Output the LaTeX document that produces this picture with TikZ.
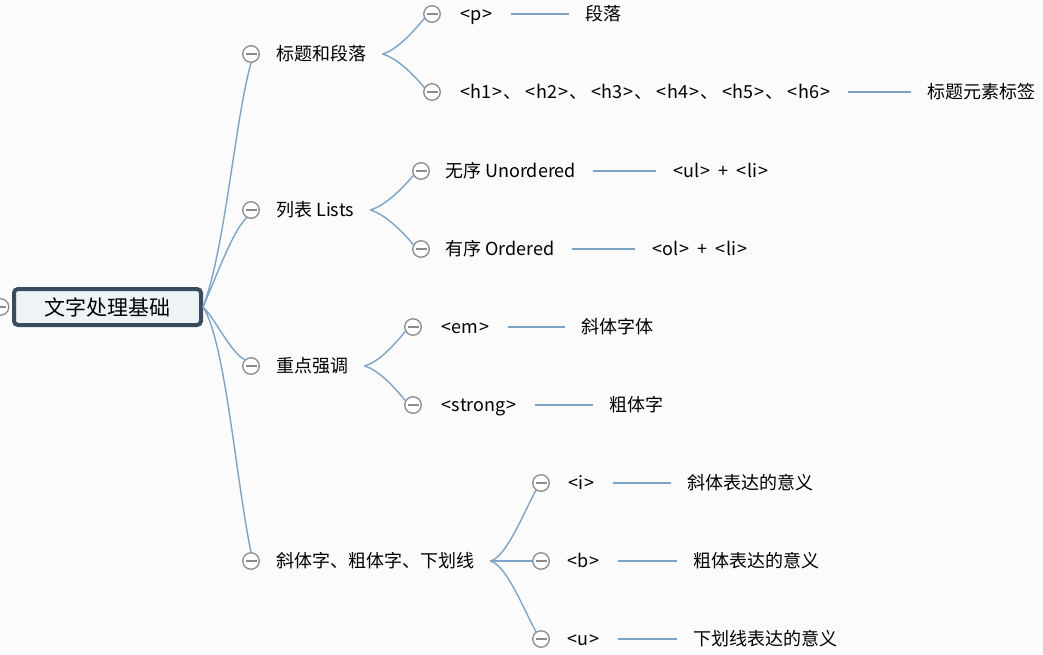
\documentclass[tikz,border=0pt]{standalone}
\usepackage{fontspec}
\setmainfont{Noto Sans CJK SC}
\usetikzlibrary{calc}
\definecolor{bgc}{RGB}{251,251,251}
\definecolor{linkc}{RGB}{125,164,198}
\definecolor{circc}{RGB}{140,140,140}
\definecolor{rootc}{RGB}{58,77,94}
\definecolor{rootfill}{RGB}{238,243,247}
\newcommand\tagtxt[1]{\kern1pt<\kern0.8pt#1\kern0.8pt>\kern1pt}
\newcommand\dunhao{、\kern3pt}
\tikzset{
  link/.style={draw=linkc, line width=1.4pt},
  collapse/.style={circle, draw=circc, fill=white, line width=1.3pt, minimum size=16.5pt, inner sep=0pt,
    path picture={\draw[circc, line width=1.3pt] ([xshift=-5.5pt]path picture bounding box.center) -- ([xshift=5.5pt]path picture bounding box.center);}},
  txt/.style={font=\fontsize{18}{21}\selectfont, inner sep=0pt, anchor=west, text=black, text height=14.5pt, text depth=1.5pt},
  rootbox/.style={rectangle, rounded corners=4pt, draw=rootc, fill=rootfill, line width=4pt,
    minimum width=187pt, minimum height=36pt, inner sep=0pt, font=\fontsize{21}{24}\selectfont}
}
\begin{document}
\begin{tikzpicture}[x=1pt,y=-1pt]
\fill[bgc] (0,0) rectangle (1043,654);
\useasboundingbox (0,0) rectangle (1043,654);

% root
\node[collapse] (c0) at (0.5,307) {};
\node[rootbox] (root) at (107.5,307) {文字处理基础};

% level-1 collapse circles and texts
\node[collapse] (c1) at (251,54) {};
\node[collapse] (c2) at (251,210) {};
\node[collapse] (c3) at (251,366) {};
\node[collapse] (c4) at (251,561) {};
\node[txt] (t1) at (276,54) {标题和段落};
\node[txt] (t2) at (276,210) {列表 Lists};
\node[txt] (t3) at (276,366) {重点强调};
\node[txt] (t4) at (276,561) {斜体字、粗体字、下划线};

% root -> level 1
\draw[link] (root.east) .. controls (225,250) and (235,120) .. (c1.south);
\draw[link] (root.east) .. controls (215,280) and (232,232) .. (c2.240);
\draw[link] (root.east) .. controls (215,318) and (230,352) .. (c3.135);
\draw[link] (root.east) .. controls (225,340) and (236,480) .. (c4.north);

% level-2 circles
\node[collapse] (c11) at (432,14) {};
\node[collapse] (c12) at (432,92) {};
\node[collapse] (c21) at (421,171) {};
\node[collapse] (c22) at (421,249) {};
\node[collapse] (c31) at (413,327) {};
\node[collapse] (c32) at (413,405) {};
\node[collapse] (c41) at (541,483) {};
\node[collapse] (c42) at (541,561) {};
\node[collapse] (c43) at (541,639) {};

% level-2 texts
\node[txt] (t11) at (459,14) {\tagtxt{p}};
\node[txt] (t12) at (459,92) {\tagtxt{h1}\dunhao\tagtxt{h2}\dunhao\tagtxt{h3}\dunhao\tagtxt{h4}\dunhao\tagtxt{h5}\dunhao\tagtxt{h6}};
\node[txt] (t21) at (445,171) {无序 Unordered};
\node[txt] (t22) at (445,249) {有序 Ordered};
\node[txt] (t31) at (440,327) {\tagtxt{em}};
\node[txt] (t32) at (440,405) {\tagtxt{strong}};
\node[txt] (t41) at (567,483) {\tagtxt{i}};
\node[txt] (t42) at (566,561) {\tagtxt{b}};
\node[txt] (t43) at (566,639) {\tagtxt{u}};

% leaves
\node[txt] (l11) at (585,14) {段落};
\node[txt] (l12) at (927,92) {标题元素标签};
\node[txt] (l21) at (672,171) {\tagtxt{ul}\hspace{7pt}+\hspace{7pt}\tagtxt{li}};
\node[txt] (l22) at (651,249) {\tagtxt{ol}\hspace{7pt}+\hspace{7pt}\tagtxt{li}};
\node[txt] (l31) at (581,327) {斜体字体};
\node[txt] (l32) at (609,405) {粗体字};
\node[txt] (l41) at (687,483) {斜体表达的意义};
\node[txt] (l42) at (693,561) {粗体表达的意义};
\node[txt] (l43) at (693,639) {下划线表达的意义};

% branch start points
\coordinate (s1) at ([xshift=16pt]t1.east);
\coordinate (s2) at ([xshift=16pt]t2.east);
\coordinate (s3) at ([xshift=16pt]t3.east);
\coordinate (s4) at ([xshift=16pt]t4.east);

% level 1 -> level 2
\draw[link] (s1) .. controls ($(s1)+(15,-4)$) and ($(c11.210)+(-10,12)$) .. (c11.210);
\draw[link] (s1) .. controls ($(s1)+(15,4)$) and ($(c12.150)+(-10,-12)$) .. (c12.150);
\draw[link] (s2) .. controls ($(s2)+(15,-4)$) and ($(c21.210)+(-10,12)$) .. (c21.210);
\draw[link] (s2) .. controls ($(s2)+(15,4)$) and ($(c22.150)+(-10,-12)$) .. (c22.150);
\draw[link] (s3) .. controls ($(s3)+(15,-4)$) and ($(c31.210)+(-10,12)$) .. (c31.210);
\draw[link] (s3) .. controls ($(s3)+(15,4)$) and ($(c32.150)+(-10,-12)$) .. (c32.150);
\draw[link] (s4) .. controls ($(s4)+(16,-4)$) and ($(c41.235)+(-12,22)$) .. (c41.235);
\draw[link] (s4) -- (c42.west);
\draw[link] (s4) .. controls ($(s4)+(16,4)$) and ($(c43.125)+(-12,-22)$) .. (c43.125);

% level 2 -> leaves
\foreach \a/\b in {t11/l11,t12/l12,t21/l21,t22/l22,t31/l31,t32/l32,t41/l41,t42/l42,t43/l43}
  \draw[link] ([xshift=17pt]\a.east) -- ([xshift=-16pt]\b.west);
\end{tikzpicture}
\end{document}
